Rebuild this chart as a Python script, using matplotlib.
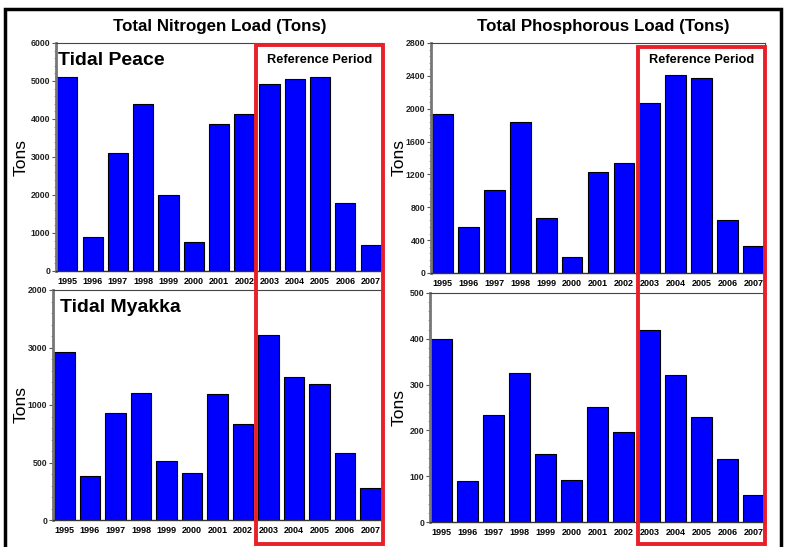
import numpy as np
import matplotlib
matplotlib.use("Agg")
from matplotlib import pyplot as plt
from matplotlib.patches import Rectangle
from matplotlib.ticker import AutoMinorLocator

plt.rcParams["font.family"] = ["Liberation Sans", "DejaVu Sans"]

# Annual loads, Tidal Peace / Tidal Myakka, 1995-2007
years = ["1995", "1996", "1997", "1998", "1999", "2000", "2001",
         "2002", "2003", "2004", "2005", "2006", "2007"]
peace_nitrogen = [5100, 900, 3100, 4390, 2000, 760, 3870, 4130, 4920, 5050, 5100, 1790, 680]
peace_phosphorus = [1940, 560, 1010, 1840, 670, 195, 1230, 1340, 2070, 2410, 2380, 650, 330]
myakka_nitrogen = [1460, 383, 930, 1104, 513, 409, 1100, 835, 1610, 1243, 1183, 583, 278]
myakka_phosphorus = [400, 90, 234, 325, 148, 92, 251, 196, 420, 322, 229, 138, 58]

# y ticks as printed on the original figure
n_peace_ticks = [0, 1000, 2000, 3000, 4000, 5000, 6000]
p_peace_ticks = [0, 400, 800, 1200, 1600, 2000, 2400, 2800]
n_myakka_ticks = [0, 500, 1000, 1500, 2000]
n_myakka_labels = ["0", "500", "1000", "3000", "2000"]
p_myakka_ticks = [0, 100, 200, 300, 400, 500]

W, H = 806, 547
fig = plt.figure(figsize=(W / 100, H / 100), dpi=100)


def box(left, top, right, bottom):
    return [left / W, 1 - bottom / H, (right - left) / W, (bottom - top) / H]


def panel(rect, values, ticks, labels=None):
    ax = fig.add_axes(rect)
    x = np.arange(len(years))
    ax.bar(x, values, width=0.8, color="#0000ff", edgecolor="black", linewidth=0.8)
    ax.set_xlim(-0.45, len(years) - 0.55)
    ax.set_ylim(0, ticks[-1])
    ax.set_yticks(ticks)
    ax.set_yticklabels(labels if labels else [str(t) for t in ticks],
                       fontsize=6.3, fontweight="bold", color="#222222")
    ax.yaxis.set_minor_locator(AutoMinorLocator(5))
    ax.set_xticks(x)
    ax.set_xticklabels(years, fontsize=6.5, fontweight="bold")
    ax.tick_params(axis="x", length=0, pad=4)
    ax.tick_params(axis="y", which="major", length=3, width=0.8, pad=1, color="#555555")
    ax.tick_params(axis="y", which="minor", length=1.5, width=0.5, color="#777777")
    for side in ["top", "right"]:
        ax.spines[side].set_color("#444444")
        ax.spines[side].set_linewidth(0.8)
    ax.spines["left"].set_color("#777777")
    ax.spines["left"].set_linewidth(2)
    ax.spines["bottom"].set_color("#333333")
    ax.spines["bottom"].set_linewidth(1.0)
    ax.set_ylabel("Tons", fontsize=12.5)
    return ax


ax1 = panel(box(56, 43, 382, 271), peace_nitrogen, n_peace_ticks)
ax2 = panel(box(431, 43, 765, 273), peace_phosphorus, p_peace_ticks)
ax3 = panel(box(53, 290, 382, 520), myakka_nitrogen, n_myakka_ticks, n_myakka_labels)
ax4 = panel(box(430, 293, 765, 522), myakka_phosphorus, p_myakka_ticks)

ax1.yaxis.set_label_coords(-0.085, 0.5)
ax3.yaxis.set_label_coords(-0.075, 0.5)
ax2.yaxis.set_label_coords(-0.072, 0.5)
ax4.yaxis.set_label_coords(-0.07, 0.5)

ax1.text(0.006, 0.96, "Tidal Peace", transform=ax1.transAxes, fontsize=14,
         fontweight="bold", va="top", ha="left")
ax3.text(0.02, 0.96, "Tidal Myakka", transform=ax3.transAxes, fontsize=14,
         fontweight="bold", va="top", ha="left")

fig.text(220 / W, 1 - 26 / H, "Total Nitrogen Load (Tons)", fontsize=12.2,
         fontweight="bold", ha="center", va="center")
fig.text(603 / W, 1 - 26 / H, "Total Phosphorous Load (Tons)", fontsize=12.2,
         fontweight="bold", ha="center", va="center")

# outer frame
fig.patches.append(Rectangle((5 / W, -0.05), 776 / W, 1 - 9 / H + 0.05,
                             transform=fig.transFigure, fill=False,
                             edgecolor="black", linewidth=2.5))

# reference period boxes
for left, right, top in [(256, 383, 45), (638, 765, 47)]:
    fig.patches.append(Rectangle((left / W, 1 - 544 / H), (right - left) / W,
                                 (544 - top) / H, transform=fig.transFigure,
                                 fill=False, edgecolor="#e8202a", linewidth=2.8,
                                 zorder=10))
    fig.text((left + right) / 2 / W, 1 - 60 / H, "Reference Period", fontsize=9.2,
             fontweight="bold", ha="center", va="center", zorder=11)

plt.savefig("out.png", dpi=100)
